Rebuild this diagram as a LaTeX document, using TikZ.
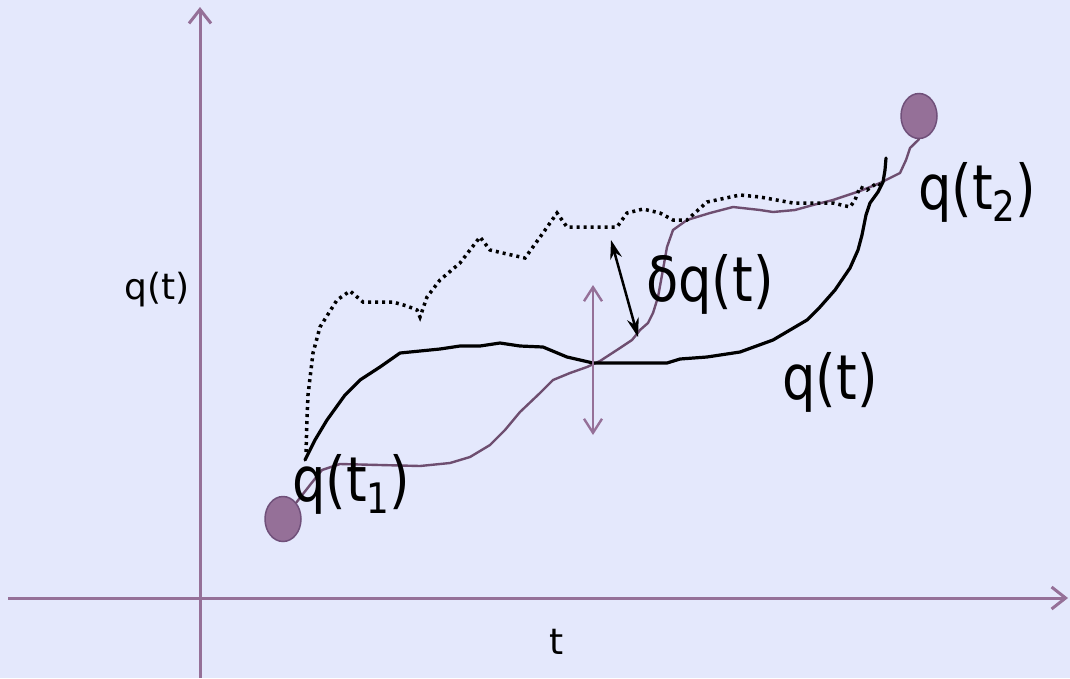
\documentclass[tikz,border=0pt]{standalone}
\usepackage{fontspec}
\setmainfont{DejaVu Sans}
\newfontfamily\narrowfont{DejaVu Sans}[FakeStretch=0.85]
\usetikzlibrary{arrows.meta,shapes.geometric}
\definecolor{bgcol}{HTML}{E4E8FC}
\definecolor{axiscol}{HTML}{957098}
\definecolor{pathcol}{HTML}{6E4E70}
\definecolor{dotedge}{HTML}{70507A}
\newcommand{\lowsub}[1]{\raisebox{-12pt}{\fontsize{42}{42}\selectfont #1}}
\begin{document}
\begin{tikzpicture}[x=1pt,y=-1pt,
  axisline/.style={axiscol, line width=3pt, -{Straight Barb[length=14pt,width=22pt]}},
  endpoint/.style={ellipse, fill=axiscol, draw=dotedge, line width=1.5pt,
    minimum width=36pt, minimum height=45pt, inner sep=0pt},
  biglabel/.style={font=\narrowfont\fontsize{62}{68}\selectfont, inner sep=0pt},
  axislabel/.style={font=\fontsize{36}{40}\selectfont, inner sep=0pt},
  truepath/.style={pathcol, line width=2.4pt, line join=round, line cap=round},
  varpath/.style={black, line width=3.2pt, line join=round, line cap=round},
  otherpath/.style={black, line width=3.5pt, dash pattern=on 3pt off 4pt}]
\fill[bgcol] (0,0) rectangle (1070,678);
\useasboundingbox (0,0) rectangle (1070,678);
% axes
\coordinate (ybot) at (200,678);
\coordinate (ytop) at (200,7);
\coordinate (xleft) at (8,598);
\coordinate (xright) at (1068,598);
\draw[axisline] (ybot) -- (ytop);
\draw[axisline] (xleft) -- (xright);
\node[axislabel] (qaxis) at (157,290) {q(t)};
\node[axislabel] (taxis) at (557,642) {t};
% end points
\node[endpoint] (q1dot) at (283,519) {};
\node[endpoint] (q2dot) at (919,116) {};
% actual path
\draw[truepath] (q1dot.north east) -- (310,485) -- (322,470) -- (340,464) -- (380,465)
  -- (420,466) -- (450,463) -- (470,457) -- (490,445) -- (505,430) -- (520,412)
  -- (540,393) -- (553,380) -- (570,373) -- (587,367) -- (600,361) -- (620,348)
  -- (632,340) -- (640,330) -- (648,323) -- (653,313) -- (658,297) -- (662,275)
  -- (667,247) -- (673,230) -- (687,220) -- (710,213) -- (733,207) -- (760,210)
  -- (773,212) -- (795,210) -- (813,205) -- (833,200) -- (860,191) -- (880,183)
  -- (900,173) -- (906,160) -- (910,148) -- (q2dot.south);
% varied path
\draw[varpath] (305,460) -- (315,440) -- (327,420) -- (345,395) -- (360,380)
  -- (380,367) -- (400,353) -- (420,351) -- (440,349) -- (460,346) -- (480,346)
  -- (500,343) -- (520,346) -- (543,347) -- (567,357) -- (593,363) -- (667,363)
  -- (680,359) -- (707,357) -- (740,352) -- (773,340) -- (807,320) -- (820,307)
  -- (835,290) -- (850,268) -- (858,250) -- (862,235) -- (866,215) -- (870,203)
  -- (878,192) -- (883,182) -- (885,170) -- (886,158);
% another path
\draw[otherpath] (306,452) -- (307,420) -- (308,395) -- (313,353) -- (320,327)
  -- (337,300) -- (350,291) -- (363,302) -- (393,302) -- (407,306) -- (417,310)
  -- (420,317) -- (427,297) -- (440,280) -- (460,263) -- (480,237) -- (490,250)
  -- (507,254) -- (525,258) -- (543,233) -- (557,213) -- (567,227) -- (617,227)
  -- (627,213) -- (643,209) -- (660,213) -- (673,220) -- (687,220) -- (707,202)
  -- (740,195) -- (760,197) -- (793,203) -- (833,203) -- (850,207) -- (855,200)
  -- (860,187) -- (867,190) -- (877,183) -- (883,187);
% variation arrows
\coordinate (vtop) at (593,285);
\coordinate (vbot) at (593,435);
\draw[axiscol, line width=2.4pt, {Straight Barb[length=14pt,width=18pt]}-{Straight Barb[length=14pt,width=18pt]}] (vtop) -- (vbot);
\coordinate (dtop) at (611,240);
\coordinate (dbot) at (638,337);
\draw[black, line width=2.5pt, {Stealth[length=19pt,width=12pt]}-{Stealth[length=19pt,width=12pt]}] (dtop) -- (dbot);
% labels
\node[biglabel] (qone) at (351,484) {q(t\lowsub{1})};
\node[biglabel] (qtwo) at (977,192) {q(t\lowsub{2})};
\node[biglabel] (dq) at (710,284) {δq(t)};
\node[biglabel] (qright) at (830,382) {q(t)};
\end{tikzpicture}
\end{document}
